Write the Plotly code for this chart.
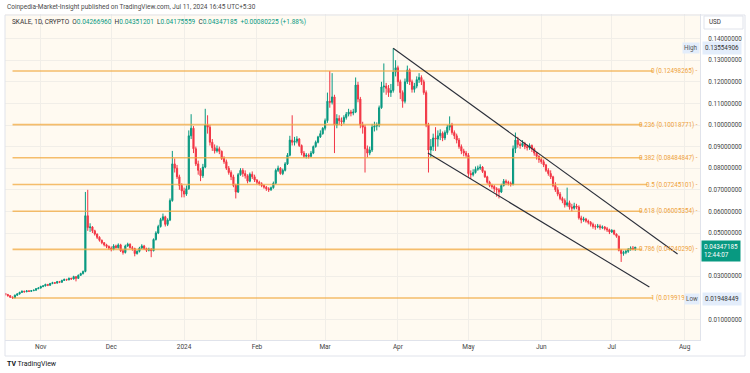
import pandas as pd
import plotly.graph_objects as go

# ---------------- data ----------------
start_date = "2023-10-17"
first_open = 0.0220

close = [
    # Oct 17-31
    0.0215, 0.0210, 0.0203, 0.0200, 0.0212, 0.0218, 0.0225, 0.0230, 0.0228, 0.0232, 0.0230, 0.0233, 0.0235, 0.0242, 0.0245,
    # Nov
    0.0252, 0.0255, 0.0262, 0.0258, 0.0266, 0.0270, 0.0268, 0.0275, 0.0272, 0.0280, 0.0285, 0.0283, 0.0290, 0.0287, 0.0298,
    0.0290, 0.0304, 0.0312, 0.0322, 0.0580, 0.0525, 0.0528, 0.0510, 0.0495, 0.0480, 0.0466, 0.0455, 0.0445, 0.0438, 0.0430,
    # Dec
    0.0425, 0.0440, 0.0432, 0.0445, 0.0418, 0.0410, 0.0440, 0.0448, 0.0432, 0.0428, 0.0405, 0.0415, 0.0430, 0.0440, 0.0428,
    0.0420, 0.0425, 0.0418, 0.0470, 0.0500, 0.0530, 0.0562, 0.0575, 0.0540, 0.0560, 0.0650, 0.0820, 0.0800, 0.0760, 0.0720, 0.0695,
    # Jan
    0.0680, 0.0705, 0.0950, 0.0985, 0.0890, 0.0820, 0.0790, 0.0765, 0.0805, 0.1000, 0.0990, 0.0920, 0.0895, 0.0880, 0.0890,
    0.0878, 0.0845, 0.0830, 0.0800, 0.0780, 0.0760, 0.0720, 0.0690, 0.0770, 0.0790, 0.0775, 0.0765, 0.0740, 0.0772, 0.0760, 0.0745,
    # Feb
    0.0735, 0.0728, 0.0720, 0.0712, 0.0705, 0.0700, 0.0710, 0.0730, 0.0790, 0.0800, 0.0775, 0.0790, 0.0820, 0.0860, 0.0930,
    0.0920, 0.0925, 0.0935, 0.0905, 0.0870, 0.0855, 0.0860, 0.0855, 0.0870, 0.0900, 0.0920, 0.0945, 0.0960, 0.0985,
    # Mar
    0.1020, 0.1110, 0.1105, 0.1130, 0.1000, 0.1030, 0.1020, 0.1015, 0.1035, 0.1050, 0.1060, 0.1055, 0.1060, 0.1185, 0.1120,
    0.1000, 0.0990, 0.0890, 0.0870, 0.0884, 0.0990, 0.0995, 0.1000, 0.1080, 0.1176, 0.1180, 0.1170, 0.1150, 0.1160, 0.1245, 0.1265,
    # Apr
    0.1200, 0.1150, 0.1110, 0.1200, 0.1255, 0.1200, 0.1165, 0.1180, 0.1210, 0.1220, 0.1200, 0.1150, 0.1000, 0.0884, 0.0900,
    0.0940, 0.0935, 0.0950, 0.0962, 0.0940, 0.0965, 0.0990, 0.1000, 0.0965, 0.0950, 0.0930, 0.0900, 0.0880, 0.0870, 0.0860,
    # May
    0.0775, 0.0770, 0.0780, 0.0795, 0.0800, 0.0805, 0.0785, 0.0760, 0.0735, 0.0720, 0.0715, 0.0705, 0.0700, 0.0690, 0.0720,
    0.0740, 0.0735, 0.0730, 0.0725, 0.0890, 0.0930, 0.0910, 0.0905, 0.0915, 0.0900, 0.0895, 0.0905, 0.0890, 0.0870, 0.0855, 0.0840,
    # Jun
    0.0830, 0.0815, 0.0790, 0.0775, 0.0760, 0.0720, 0.0700, 0.0680, 0.0660, 0.0650, 0.0630, 0.0640, 0.0620, 0.0615, 0.0625,
    0.0620, 0.0570, 0.0560, 0.0565, 0.0555, 0.0550, 0.0540, 0.0530, 0.0528, 0.0532, 0.0525, 0.0528, 0.0520, 0.0515, 0.0505,
    # Jul 1-11
    0.0512, 0.0495, 0.0485, 0.0420, 0.0405, 0.0410, 0.0415, 0.0425, 0.0430, 0.04266960, 0.04347185,
]

high = [
    # Oct
    0.0222, 0.0218, 0.0212, 0.0206, 0.0215, 0.0221, 0.0228, 0.0234, 0.0233, 0.0235, 0.0235, 0.0236, 0.0238, 0.0245, 0.0249,
    # Nov
    0.0256, 0.0259, 0.0265, 0.0264, 0.0269, 0.0274, 0.0273, 0.0278, 0.0278, 0.0284, 0.0289, 0.0288, 0.0294, 0.0293, 0.0302,
    0.0300, 0.0308, 0.0316, 0.0326, 0.0690, 0.0700, 0.0545, 0.0532, 0.0515, 0.0498, 0.0485, 0.0470, 0.0458, 0.0450, 0.0442,
    # Dec
    0.0438, 0.0448, 0.0446, 0.0452, 0.0450, 0.0425, 0.0446, 0.0455, 0.0452, 0.0440, 0.0432, 0.0420, 0.0436, 0.0448, 0.0445,
    0.0432, 0.0432, 0.0430, 0.0475, 0.0508, 0.0538, 0.0570, 0.0590, 0.0580, 0.0568, 0.0660, 0.0880, 0.0845, 0.0815, 0.0770, 0.0730,
    # Jan
    0.0710, 0.0720, 0.0975, 0.1050, 0.0995, 0.0900, 0.0835, 0.0800, 0.0820, 0.1075, 0.1045, 0.1000, 0.0935, 0.0910, 0.0905,
    0.0900, 0.0882, 0.0855, 0.0840, 0.0810, 0.0790, 0.0770, 0.0728, 0.0778, 0.0800, 0.0800, 0.0790, 0.0772, 0.0780, 0.0785, 0.0770,
    # Feb
    0.0750, 0.0742, 0.0735, 0.0725, 0.0718, 0.0712, 0.0715, 0.0738, 0.0798, 0.0812, 0.0805, 0.0798, 0.0828, 0.0870, 0.0950,
    0.1045, 0.0945, 0.0948, 0.0940, 0.0910, 0.0880, 0.0870, 0.0868, 0.0880, 0.0905, 0.0928, 0.0950, 0.0975, 0.0990,
    # Mar
    0.1030, 0.1150, 0.1250, 0.1240, 0.1140, 0.1050, 0.1045, 0.1035, 0.1045, 0.1060, 0.1075, 0.1070, 0.1075, 0.1220, 0.1200,
    0.1130, 0.1015, 0.1000, 0.0905, 0.0900, 0.1005, 0.1015, 0.1012, 0.1090, 0.1200, 0.1285, 0.1195, 0.1185, 0.1190, 0.13554906, 0.1300,
    # Apr
    0.1275, 0.1210, 0.1160, 0.1215, 0.1275, 0.1262, 0.1210, 0.1195, 0.1225, 0.1240, 0.1230, 0.1210, 0.1160, 0.1010, 0.0935,
    0.0960, 0.0990, 0.0975, 0.0980, 0.0970, 0.0975, 0.1000, 0.1040, 0.1010, 0.0975, 0.0960, 0.0940, 0.0910, 0.0890, 0.0880,
    # May
    0.0870, 0.0790, 0.0795, 0.0808, 0.0812, 0.0818, 0.0810, 0.0790, 0.0765, 0.0742, 0.0728, 0.0722, 0.0712, 0.0708, 0.0728,
    0.0750, 0.0748, 0.0742, 0.0738, 0.0905, 0.0965, 0.0945, 0.0920, 0.0930, 0.0922, 0.0910, 0.0915, 0.0910, 0.0895, 0.0875, 0.0860,
    # Jun
    0.0850, 0.0840, 0.0820, 0.0800, 0.0790, 0.0765, 0.0735, 0.0712, 0.0690, 0.0668, 0.0660, 0.0710, 0.0650, 0.0635, 0.0640,
    0.0635, 0.0628, 0.0580, 0.0575, 0.0570, 0.0562, 0.0555, 0.0548, 0.0540, 0.0542, 0.0540, 0.0535, 0.0532, 0.0528, 0.0520,
    # Jul
    0.0518, 0.0515, 0.0498, 0.0488, 0.0425, 0.0418, 0.0422, 0.0430, 0.0438, 0.0440, 0.04351201,
]

low = [
    # Oct
    0.0211, 0.0205, 0.0199, 0.01948449, 0.0198, 0.0209, 0.0215, 0.0222, 0.0224, 0.0226, 0.0227, 0.0228, 0.0231, 0.0233, 0.0240,
    # Nov
    0.0243, 0.0249, 0.0253, 0.0254, 0.0256, 0.0263, 0.0264, 0.0266, 0.0268, 0.0270, 0.0278, 0.0279, 0.0281, 0.0284, 0.0285,
    0.0276, 0.0288, 0.0302, 0.0308, 0.0318, 0.0510, 0.0505, 0.0500, 0.0488, 0.0472, 0.0460, 0.0448, 0.0438, 0.0430, 0.0422,
    # Dec
    0.0415, 0.0420, 0.0428, 0.0428, 0.0412, 0.0400, 0.0405, 0.0436, 0.0428, 0.0418, 0.0392, 0.0400, 0.0410, 0.0426, 0.0422,
    0.0412, 0.0415, 0.0388, 0.0415, 0.0465, 0.0495, 0.0525, 0.0555, 0.0530, 0.0532, 0.0555, 0.0645, 0.0780, 0.0750, 0.0700, 0.0665,
    # Jan
    0.0665, 0.0672, 0.0700, 0.0935, 0.0870, 0.0810, 0.0770, 0.0740, 0.0755, 0.0800, 0.0960, 0.0905, 0.0880, 0.0868, 0.0872,
    0.0865, 0.0838, 0.0820, 0.0792, 0.0770, 0.0745, 0.0712, 0.0660, 0.0685, 0.0765, 0.0760, 0.0752, 0.0730, 0.0735, 0.0750, 0.0736,
    # Feb
    0.0725, 0.0720, 0.0712, 0.0705, 0.0695, 0.0690, 0.0695, 0.0705, 0.0725, 0.0782, 0.0770, 0.0768, 0.0785, 0.0815, 0.0855,
    0.0905, 0.0905, 0.0915, 0.0898, 0.0860, 0.0848, 0.0845, 0.0845, 0.0850, 0.0865, 0.0895, 0.0915, 0.0940, 0.0955,
    # Mar
    0.0975, 0.1010, 0.1080, 0.1095, 0.0870, 0.0985, 0.1000, 0.0995, 0.1005, 0.1025, 0.1040, 0.1040, 0.1045, 0.1055, 0.1105,
    0.0985, 0.0960, 0.0780, 0.0850, 0.0860, 0.0875, 0.0970, 0.0975, 0.0990, 0.1075, 0.1150, 0.1140, 0.1130, 0.1130, 0.1150, 0.1225,
    # Apr
    0.1180, 0.1120, 0.1080, 0.1100, 0.1190, 0.1185, 0.1150, 0.1150, 0.1170, 0.1195, 0.1185, 0.1140, 0.0990, 0.0780, 0.0850,
    0.0880, 0.0880, 0.0900, 0.0930, 0.0925, 0.0930, 0.0955, 0.0975, 0.0955, 0.0935, 0.0915, 0.0890, 0.0865, 0.0855, 0.0850,
    # May
    0.0760, 0.0750, 0.0762, 0.0775, 0.0788, 0.0792, 0.0778, 0.0755, 0.0728, 0.0712, 0.0705, 0.0690, 0.0668, 0.0660, 0.0685,
    0.0715, 0.0722, 0.0720, 0.0715, 0.0720, 0.0870, 0.0895, 0.0890, 0.0898, 0.0888, 0.0882, 0.0885, 0.0875, 0.0858, 0.0840, 0.0825,
    # Jun
    0.0820, 0.0805, 0.0782, 0.0765, 0.0750, 0.0712, 0.0690, 0.0670, 0.0652, 0.0638, 0.0618, 0.0622, 0.0608, 0.0600, 0.0608,
    0.0610, 0.0562, 0.0545, 0.0552, 0.0548, 0.0540, 0.0530, 0.0520, 0.0515, 0.0522, 0.0515, 0.0518, 0.0512, 0.0505, 0.0495,
    # Jul
    0.0500, 0.0490, 0.0478, 0.0415, 0.0366, 0.0395, 0.0402, 0.0408, 0.0418, 0.0420, 0.04175559,
]

fib_ratios = ["0", "0.236", "0.382", "0.5", "0.618", "0.786", "1"]
fib_prices = [0.12498265, 0.10018771, 0.08484847, 0.07245101, 0.06005354, 0.04240290, 0.01991937]
fib_start = "2023-10-20"

channel_upper_x = ["2024-03-30", "2024-07-29"]
channel_upper_y = [0.1355, 0.0403]
channel_lower_x = ["2024-04-13 18:00", "2024-07-17"]
channel_lower_y = [0.0870, 0.0250]

month_ticks = ["2023-11-01", "2023-12-01", "2024-01-01", "2024-02-01", "2024-03-01",
               "2024-04-01", "2024-05-01", "2024-06-01", "2024-07-01", "2024-08-01"]
month_labels = ["Nov", "Dec", "2024", "Feb", "Mar", "Apr", "May", "Jun", "Jul", "Aug"]
price_ticks = [0.14, 0.13, 0.12, 0.11, 0.10, 0.09, 0.08, 0.07, 0.06, 0.05, 0.03, 0.01]

all_time_high = 0.13554906
all_time_low = 0.01948449
countdown = "12:44:07"

# ---------------- figure ----------------
dates = pd.date_range(start_date, periods=len(close), freq="D")
opens = [first_open] + close[:-1]

X_MIN = pd.Timestamp("2023-10-16 19:00")
X_MAX = pd.Timestamp("2024-08-07 13:00")
Y_MIN, Y_MAX = 0.00046, 0.15139
PLOT_W = 695.0  # px
PLOT_H = 326.0

FONT = "Roboto, Liberation Sans, Arial"
GREEN = "#089981"
RED = "#f23645"
FIB = "rgba(242,168,62,0.75)"
FIBTXT = "#eea13a"

def px(xp):
    return (xp - 5) / PLOT_W

def py(yp):
    return (340 - yp) / PLOT_H

fig = go.Figure()
fig.add_trace(go.Candlestick(
    x=dates, open=opens, high=high, low=low, close=close,
    increasing=dict(line=dict(color=GREEN, width=1), fillcolor=GREEN),
    decreasing=dict(line=dict(color=RED, width=1), fillcolor=RED),
    whiskerwidth=0, showlegend=False, hoverinfo="skip",
))

def px_to_date(xp):
    return X_MIN + (X_MAX - X_MIN) * px(xp)

annotations = []
shapes = []
for r, p in zip(fib_ratios, fib_prices):
    label = f"{r} ({p:.8f}) -"
    end_px = 700 - len(label) * 2.75 - 3
    fig.add_trace(go.Scatter(
        x=[pd.Timestamp(fib_start), px_to_date(end_px)], y=[p, p], mode="lines",
        line=dict(color=FIB, width=1.6), showlegend=False, hoverinfo="skip"))
    annotations.append(dict(x=1.0, xref="paper", y=p, yref="y", text=label,
                            xanchor="right", yanchor="middle", showarrow=False,
                            font=dict(size=6.3, color=FIBTXT, family=FONT)))

for cx, cy in [(channel_upper_x, channel_upper_y), (channel_lower_x, channel_lower_y)]:
    fig.add_trace(go.Scatter(x=cx, y=cy, mode="lines",
                             line=dict(color="#2a2e39", width=1.1),
                             showlegend=False, hoverinfo="skip"))

# frame
shapes.append(dict(type="rect", xref="paper", yref="paper", x0=0, x1=px(745),
                   y0=py(356), y1=py(15),
                   line=dict(color="#e0e3eb", width=1), fillcolor="rgba(0,0,0,0)", layer="above"))
# USD box
shapes.append(dict(type="rect", xref="paper", yref="paper",
                   x0=px(704), x1=px(743), y0=py(29), y1=py(16),
                   line=dict(color="#e0e3eb", width=1), fillcolor="white", layer="above"))
annotations.append(dict(x=px(707), xref="paper", y=py(22.5), yref="paper",
                        text="USD", xanchor="left", yanchor="middle", showarrow=False,
                        font=dict(size=6.3, color="#333", family=FONT)))

# header
annotations.append(dict(x=0, xref="paper", y=py(7), yref="paper",
                        text="Coinpedia-Market-Insight published on TradingView.com, Jul 11, 2024 16:45 UTC+5:30",
                        xanchor="left", yanchor="middle", showarrow=False,
                        font=dict(size=6.5, color="#4a4a4a", family=FONT)))
chg = close[-1] - opens[-1]
pct = chg / opens[-1] * 100

def v(s):
    return f"<span style='color:{GREEN}'>{s}</span>"

hdr = ("SKALE, 1D, CRYPTO  " +
       "O" + v(f"{opens[-1]:.8f}") + "  H" + v(f"{high[-1]:.8f}") +
       "  L" + v(f"{low[-1]:.8f}") + "  C" + v(f"{close[-1]:.8f}") +
       "  " + v(f"+{chg:.8f} (+{pct:.2f}%)"))
annotations.append(dict(x=px(10), xref="paper", y=py(22), yref="paper",
                        text=hdr, xanchor="left", yanchor="middle", showarrow=False,
                        font=dict(size=6.5, color="#333", family=FONT)))

# High / Low labels
for word, val in [("High", all_time_high), ("Low", all_time_low)]:
    annotations.append(dict(x=1.0, xref="paper", y=val, yref="y", text=word,
                            xanchor="right", yanchor="middle", showarrow=False,
                            bgcolor="#e3edfb", borderpad=1,
                            font=dict(size=6.3, color="#555", family=FONT)))
    annotations.append(dict(x=px(702), xref="paper", y=val, yref="y",
                            text=f"{val:.8f}", xanchor="left", yanchor="middle",
                            showarrow=False, bgcolor="#e3edfb", borderpad=2,
                            font=dict(size=6.3, color="#333", family=FONT)))

# current price box
annotations.append(dict(x=px(701), xref="paper", y=close[-1], yref="y",
                        text=f"{close[-1]:.8f}<br>{countdown}", align="left",
                        xanchor="left", yanchor="top", yshift=7, showarrow=False,
                        bgcolor=GREEN, borderpad=2,
                        font=dict(size=6.3, color="white", family=FONT)))

# footer
annotations.append(dict(x=0, xref="paper", y=py(364), yref="paper",
                        text="<b>TV</b> TradingView", xanchor="left", yanchor="middle",
                        showarrow=False, font=dict(size=7, color="#131722", family=FONT)))

fig.update_layout(
    width=750, height=373,
    margin=dict(l=5, r=50, t=14, b=33),
    paper_bgcolor="white", plot_bgcolor="#fffaf1",
    showlegend=False,
    xaxis=dict(type="date", range=[X_MIN, X_MAX], rangeslider=dict(visible=False),
               tickvals=month_ticks, ticktext=month_labels,
               tickfont=dict(size=6.5, color="#444", family=FONT),
               showgrid=True, gridcolor="#f1eee8", gridwidth=1,
               showline=True, linecolor="#e0e3eb", zeroline=False, ticks=""),
    yaxis=dict(side="right", range=[Y_MIN, Y_MAX], tickvals=price_ticks,
               ticktext=[f"{t:.8f}" for t in price_ticks],
               tickfont=dict(size=6.3, color="#444", family=FONT),
               showgrid=True, gridcolor="#f1eee8", gridwidth=1,
               showline=True, linecolor="#e0e3eb", zeroline=False, ticks="",
               ticklabelstandoff=6),
    annotations=annotations, shapes=shapes,
)

fig.write_html("out.html", config={"displayModeBar": False},
               post_script="document.body.style.margin='0';document.body.style.overflow='hidden';")
